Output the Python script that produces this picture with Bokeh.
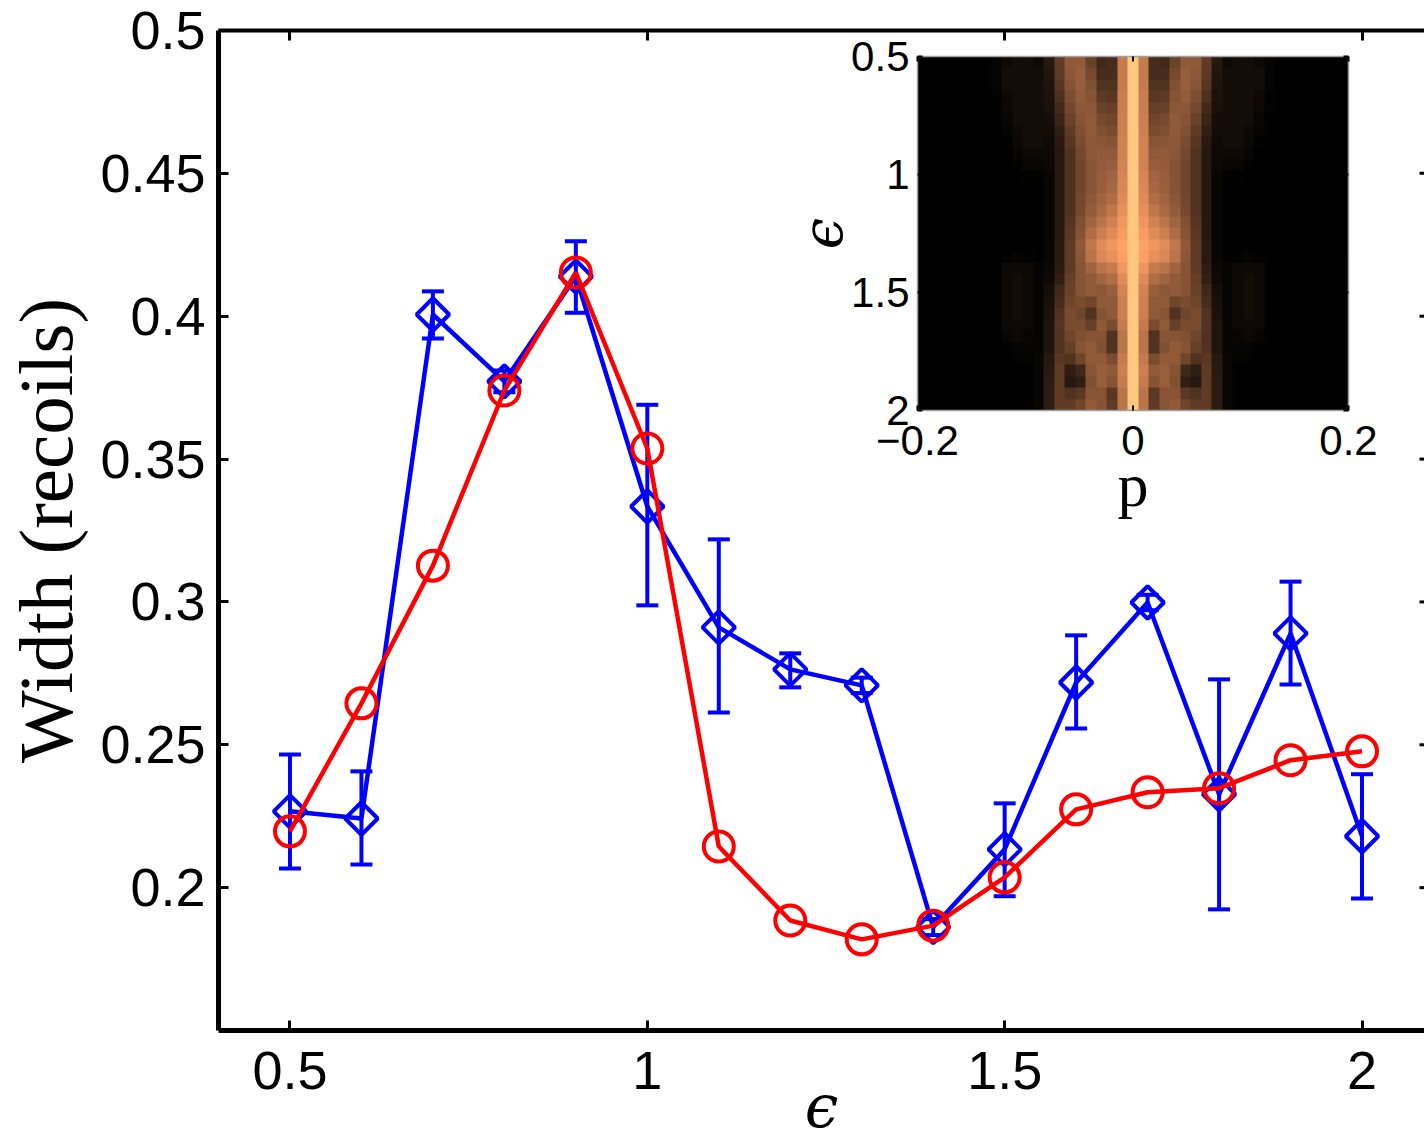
import numpy as np
from bokeh.plotting import figure
from bokeh.models import (Range1d, LinearAxis, FixedTicker, Whisker, TeeHead,
                          ColumnDataSource, LinearColorMapper)
from bokeh.embed import file_html
from bokeh.resources import INLINE
from bokeh.core.properties import value

# ---------------- data (main chart) ----------------
eps = [0.5, 0.6, 0.7, 0.8, 0.9, 1.0, 1.1, 1.2, 1.3, 1.4, 1.5, 1.6, 1.7, 1.8, 1.9, 2.0]
blue_width = [0.2267, 0.2242, 0.4006, 0.3772, 0.4139, 0.3334, 0.2911, 0.2764,
              0.2708, 0.1862, 0.2134, 0.2718, 0.2998, 0.2327, 0.2890, 0.2180]
blue_upper = [0.2466, 0.2407, 0.4087, 0.3810, 0.4262, 0.3690, 0.3219, 0.2820,
              0.2735, 0.1890, 0.2295, 0.2883, 0.3025, 0.2729, 0.3071, 0.2397]
blue_lower = [0.2067, 0.2081, 0.3922, 0.3734, 0.4012, 0.2988, 0.2613, 0.2701,
              0.2681, 0.1834, 0.1970, 0.2557, 0.2971, 0.1924, 0.2711, 0.1962]
red_width = [0.2197, 0.2645, 0.3127, 0.3740, 0.4153, 0.3537, 0.2144, 0.1885,
             0.1819, 0.1867, 0.2036, 0.2274, 0.2334, 0.2348, 0.2446, 0.2477]

x_ticks = [0.5, 1.0, 1.5, 2.0]
y_ticks = [0.2, 0.25, 0.3, 0.35, 0.4, 0.45, 0.5]

# ---------------- data (inset heat map) ----------------
inset_p_ticks = [-0.2, 0.0, 0.2]
inset_p_labels = ["\u22120.2", "0", "0.2"]
inset_e_ticks = [0.5, 1.0, 1.5, 2.0]
inset_e_labels = ["0.5", "1", "1.5", "2"]

heat_eps = [0.5, 0.55, 0.6, 0.65, 0.7, 0.75, 0.8, 0.85, 0.9, 0.95, 1.0, 1.05, 1.1,
            1.15, 1.2, 1.25, 1.3, 1.35, 1.4, 1.45, 1.5, 1.55, 1.6, 1.65, 1.7, 1.75,
            1.8, 1.85, 1.9, 1.95, 2.0]
heat_p = [0.0, 0.01, 0.02, 0.03, 0.04, 0.05, 0.06, 0.07, 0.08, 0.09, 0.10, 0.11, 0.12, 0.13]
heat = [
    [1.00, 0.62, 0.22, 0.20, 0.33, 0.45, 0.45, 0.30, 0.12, 0.05, 0.06, 0.07, 0.05, 0.02],
    [1.00, 0.62, 0.22, 0.22, 0.37, 0.47, 0.44, 0.29, 0.11, 0.06, 0.07, 0.07, 0.06, 0.02],
    [1.00, 0.62, 0.25, 0.25, 0.40, 0.47, 0.42, 0.27, 0.10, 0.06, 0.07, 0.07, 0.06, 0.02],
    [1.00, 0.63, 0.28, 0.29, 0.42, 0.46, 0.39, 0.24, 0.09, 0.06, 0.07, 0.07, 0.05, 0.01],
    [1.00, 0.63, 0.32, 0.33, 0.44, 0.44, 0.36, 0.21, 0.08, 0.06, 0.07, 0.06, 0.04, 0.01],
    [1.00, 0.64, 0.35, 0.37, 0.45, 0.42, 0.33, 0.18, 0.07, 0.06, 0.07, 0.06, 0.03, 0.00],
    [1.00, 0.64, 0.38, 0.40, 0.45, 0.40, 0.30, 0.15, 0.06, 0.06, 0.06, 0.05, 0.02, 0.00],
    [1.00, 0.65, 0.42, 0.43, 0.44, 0.38, 0.27, 0.13, 0.05, 0.06, 0.06, 0.04, 0.01, 0.00],
    [1.00, 0.65, 0.45, 0.45, 0.43, 0.36, 0.25, 0.12, 0.05, 0.05, 0.05, 0.03, 0.00, 0.00],
    [1.00, 0.66, 0.47, 0.46, 0.42, 0.35, 0.25, 0.12, 0.04, 0.03, 0.03, 0.01, 0.00, 0.00],
    [1.00, 0.67, 0.50, 0.47, 0.42, 0.35, 0.25, 0.12, 0.03, 0.01, 0.01, 0.00, 0.00, 0.00],
    [1.00, 0.68, 0.52, 0.48, 0.42, 0.35, 0.25, 0.12, 0.03, 0.00, 0.00, 0.00, 0.00, 0.00],
    [1.00, 0.70, 0.55, 0.50, 0.44, 0.36, 0.25, 0.12, 0.03, 0.00, 0.00, 0.00, 0.00, 0.00],
    [1.00, 0.72, 0.60, 0.53, 0.46, 0.37, 0.25, 0.12, 0.03, 0.00, 0.00, 0.00, 0.00, 0.00],
    [1.00, 0.75, 0.65, 0.58, 0.50, 0.40, 0.27, 0.12, 0.03, 0.00, 0.00, 0.00, 0.00, 0.00],
    [1.00, 0.78, 0.70, 0.64, 0.55, 0.42, 0.28, 0.12, 0.03, 0.00, 0.00, 0.00, 0.00, 0.00],
    [1.00, 0.82, 0.75, 0.70, 0.60, 0.45, 0.30, 0.13, 0.03, 0.00, 0.00, 0.00, 0.00, 0.00],
    [1.00, 0.80, 0.72, 0.68, 0.58, 0.44, 0.30, 0.13, 0.03, 0.00, 0.01, 0.02, 0.01, 0.00],
    [1.00, 0.75, 0.62, 0.58, 0.50, 0.42, 0.30, 0.14, 0.04, 0.02, 0.04, 0.05, 0.04, 0.00],
    [1.00, 0.70, 0.55, 0.50, 0.45, 0.42, 0.32, 0.16, 0.05, 0.02, 0.05, 0.06, 0.05, 0.00],
    [1.00, 0.66, 0.48, 0.44, 0.45, 0.42, 0.33, 0.20, 0.07, 0.02, 0.05, 0.06, 0.05, 0.00],
    [1.00, 0.64, 0.45, 0.45, 0.35, 0.38, 0.35, 0.22, 0.08, 0.02, 0.05, 0.06, 0.05, 0.00],
    [1.00, 0.64, 0.45, 0.42, 0.25, 0.35, 0.38, 0.25, 0.09, 0.02, 0.05, 0.06, 0.05, 0.00],
    [1.00, 0.62, 0.38, 0.45, 0.32, 0.38, 0.38, 0.26, 0.10, 0.02, 0.04, 0.05, 0.04, 0.00],
    [1.00, 0.58, 0.25, 0.42, 0.42, 0.40, 0.35, 0.25, 0.10, 0.02, 0.03, 0.04, 0.03, 0.00],
    [1.00, 0.58, 0.25, 0.40, 0.45, 0.42, 0.32, 0.25, 0.10, 0.02, 0.02, 0.02, 0.01, 0.00],
    [1.00, 0.62, 0.38, 0.45, 0.45, 0.35, 0.25, 0.28, 0.12, 0.03, 0.01, 0.01, 0.00, 0.00],
    [1.00, 0.64, 0.45, 0.48, 0.42, 0.20, 0.15, 0.30, 0.13, 0.03, 0.00, 0.00, 0.00, 0.00],
    [1.00, 0.62, 0.42, 0.48, 0.40, 0.15, 0.12, 0.30, 0.14, 0.03, 0.00, 0.00, 0.00, 0.00],
    [1.00, 0.58, 0.28, 0.42, 0.42, 0.28, 0.25, 0.30, 0.14, 0.03, 0.00, 0.00, 0.00, 0.00],
    [1.00, 0.58, 0.30, 0.42, 0.45, 0.35, 0.30, 0.30, 0.14, 0.03, 0.00, 0.00, 0.00, 0.00],
]

# ---------------- layout constants (pixels) ----------------
W, H = 1424, 1145
FL, FT, FB = 218, 30, 1030
FR = W
PX_X = 714.7          # pixels per unit of epsilon on the main x axis
X0 = 0.4
X1 = X0 + (FR - FL) / PX_X
Y0, Y1 = 0.15, 0.5

IL, IR, IT, IB = 917, 1348, 56, 410   # inset box
ip0, ip1 = inset_p_ticks[0], inset_p_ticks[-1]
ie0, ie1 = inset_e_ticks[0], inset_e_ticks[-1]
isx = (IR - IL) / (ip1 - ip0)
isy = (IB - IT) / (ie1 - ie0)

BLUE = "#0000ff"
RED = "#ff0000"
SANS = "Liberation Sans"
SERIF = "Liberation Serif"

p = figure(width=W, height=H, x_range=Range1d(X0, X1), y_range=Range1d(Y0, Y1),
           output_backend="svg", toolbar_location=None,
           min_border_left=FL, min_border_right=0, min_border_top=FT,
           min_border_bottom=H - FB)
p.outline_line_color = None
p.grid.visible = False
p.background_fill_color = "white"
p.border_fill_color = "white"

# inset ranges on the same canvas
p.extra_x_ranges = {"ip": Range1d(ip0 - (IL - FL) / isx, ip1 + (FR - IR) / isx)}
p.extra_y_ranges = {"ie": Range1d(-ie1 - (FB - IB) / isy, -ie0 + (IT - FT) / isy)}

# ---------------- axes ----------------
def fmt(v):
    return f"{v:g}"

xa = p.xaxis[0]
xa.ticker = FixedTicker(ticks=x_ticks)
xa.major_label_overrides = {t: fmt(t) for t in x_ticks}
ya = p.yaxis[0]
ya.ticker = FixedTicker(ticks=y_ticks)
ya.major_label_overrides = {t: fmt(t) for t in y_ticks}
for ax in (xa, ya):
    ax.axis_line_width = 5
    ax.major_tick_in = 10
    ax.major_tick_out = 0
    ax.major_tick_line_width = 3
    ax.minor_tick_line_color = None
    ax.major_label_text_font = SANS
    ax.major_label_text_font_size = "54px"
    ax.major_label_text_color = "black"
    ax.axis_label_text_color = "black"
    ax.axis_label_text_font_style = "normal"
xa.major_label_standoff = 21
ya.major_label_standoff = 13

ya.axis_label = "Width (recoils)"
ya.axis_label_text_font = SERIF
ya.axis_label_text_font_size = "77px"
ya.axis_label_standoff = 8

xa.axis_label = "\u03f5"
xa.axis_label_text_font = "DejaVu Serif"
xa.axis_label_text_font_style = "italic"
xa.axis_label_text_font_size = "60px"
xa.axis_label_standoff = -21

top = LinearAxis(ticker=FixedTicker(ticks=x_ticks), axis_line_width=4,
                 major_tick_in=10, major_tick_out=0, major_tick_line_width=3,
                 minor_tick_line_color=None, major_label_text_font_size="1px",
                 major_label_text_alpha=0, major_label_standoff=0)
p.add_layout(top, "above")

# right-hand inward ticks (frame edge is cut off in the reference)
n_yt = len(y_ticks)
p.segment(x0=[X1 - 5 / PX_X] * n_yt, x1=[X1] * n_yt, y0=y_ticks, y1=y_ticks,
          line_color="black", line_width=3)

# ---------------- main series ----------------
src_b = ColumnDataSource(dict(x=eps, y=blue_width, lo=blue_lower, hi=blue_upper))
src_r = ColumnDataSource(dict(x=eps, y=red_width))

wh = Whisker(source=src_b, base="x", upper="hi", lower="lo", dimension="height",
             line_color=BLUE, line_width=4,
             upper_head=TeeHead(size=22, line_color=BLUE, line_width=4),
             lower_head=TeeHead(size=22, line_color=BLUE, line_width=4))
p.add_layout(wh)

p.line("x", "y", source=src_b, line_color=BLUE, line_width=4.5)
p.scatter("x", "y", source=src_b, marker="square", angle=np.pi / 4, size=23,
          fill_color=None, line_color=BLUE, line_width=4)
p.line("x", "y", source=src_r, line_color=RED, line_width=4.5)
p.scatter("x", "y", source=src_r, marker="circle", size=30,
          fill_color=None, line_color=RED, line_width=4)

# ---------------- inset heat map ----------------
half = np.array(heat)
step = heat_p[1] - heat_p[0]
nside = int(round(ip1 / step))
full = np.zeros((len(heat_eps), 2 * nside + 1))
for k in range(-nside, nside + 1):
    if abs(k) < len(heat_p):
        full[:, k + nside] = half[:, abs(k)]
img = np.flipud(full)   # row 0 at the bottom (eps = 2)

def copper(n=256):
    out = []
    for i in range(n):
        t = i / (n - 1)
        r, g, b = min(1.0, 1.25 * t), 0.7812 * t, 0.4975 * t
        out.append("#%02x%02x%02x" % (int(round(r * 255)), int(round(g * 255)), int(round(b * 255))))
    return out

mapper = LinearColorMapper(palette=copper(), low=0, high=1)
p.image(image=[img], x=ip0, y=-ie1, dw=ip1 - ip0, dh=ie1 - ie0,
        color_mapper=mapper, x_range_name="ip", y_range_name="ie")

p.quad(left=ip0, right=ip1, bottom=-ie1, top=-ie0, fill_color=None,
       line_color="#a0a0a0", line_width=1.5, x_range_name="ip", y_range_name="ie")

tl_x = 5 / isx
tl_y = 5 / isy
n_pt = len(inset_p_ticks)
n_et = len(inset_e_ticks)
neg_e = [-e for e in inset_e_ticks]
p.segment(x0=inset_p_ticks * 2, x1=inset_p_ticks * 2,
          y0=[-ie0] * n_pt + [-ie1] * n_pt,
          y1=[-ie0 - tl_y] * n_pt + [-ie1 + tl_y] * n_pt,
          line_color="black", line_width=2, x_range_name="ip", y_range_name="ie")
p.segment(x0=[ip0] * n_et + [ip1] * n_et,
          x1=[ip0 + tl_x] * n_et + [ip1 - tl_x] * n_et,
          y0=neg_e * 2, y1=neg_e * 2,
          line_color="black", line_width=2, x_range_name="ip", y_range_name="ie")

p.text(x=[ip0] * n_et, y=neg_e, text=inset_e_labels, x_offset=-8,
       text_align="right", text_baseline="middle", text_font=value(SANS),
       text_font_size="42px", text_color="black",
       x_range_name="ip", y_range_name="ie")
p.text(x=inset_p_ticks, y=[-ie1] * n_pt, text=inset_p_labels, y_offset=15,
       text_align="center", text_baseline="top", text_font=value(SANS),
       text_font_size="42px", text_color="black",
       x_range_name="ip", y_range_name="ie")
p.text(x=[(ip0 + ip1) / 2], y=[-ie1], text=["p"], y_offset=74,
       text_align="center", text_baseline="alphabetic", text_font=value(SERIF),
       text_font_size="62px", text_color="black",
       x_range_name="ip", y_range_name="ie")
p.text(x=[ip0], y=[-(ie0 + ie1) / 2], text=["\u03f5"], x_offset=-(IL - 822),
       angle=np.pi / 2, text_align="center", text_baseline="middle",
       text_font=value("DejaVu Serif"), text_font_style="italic",
       text_font_size="56px", text_color="black",
       x_range_name="ip", y_range_name="ie")

open("out.html", "w").write(file_html(p, INLINE))
